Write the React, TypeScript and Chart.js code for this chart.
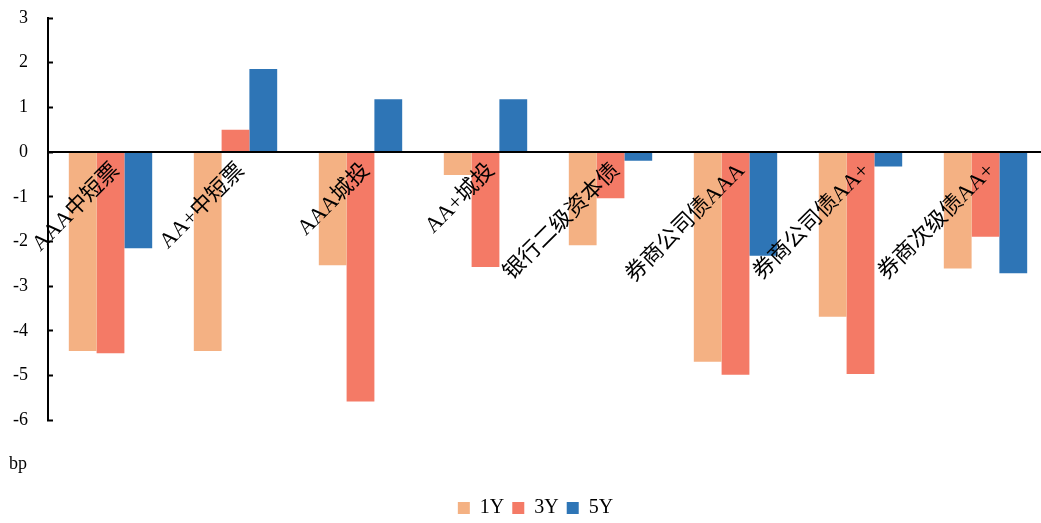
import React, { useEffect, useRef } from 'react';
import { Chart, registerables } from 'chart.js';

Chart.register(...registerables);

const categories = ['AAA中短票', 'AA+中短票', 'AAA城投', 'AA+城投', '银行二级资本债', '券商公司债AAA', '券商公司债AA+', '券商次级债AA+'];
const series1Y = [-4.45, -4.45, -2.53, -0.51, -2.08, -4.69, -3.68, -2.6];
const series3Y = [-4.5, 0.5, -5.58, -2.57, -1.03, -4.98, -4.96, -1.89];
const series5Y = [-2.15, 1.86, 1.18, 1.18, -0.19, -2.32, -0.32, -2.71];
const seriesNames = ['1Y', '3Y', '5Y'];
const yTicks = [-6, -5, -4, -3, -2, -1, 0, 1, 2, 3];
const unitLabel = 'bp';

const serif = "'Times New Roman', 'Liberation Serif', 'Noto Sans CJK SC', serif";

const legendShift = {
  id: 'legendShift',
  afterLayout(chart: any) {
    if (chart.legend) {
      chart.legend.left += 7;
      chart.legend.right += 7;
    }
  },
};

export default function App() {
  const ref = useRef<HTMLCanvasElement>(null);
  useEffect(() => {
    const chart = new Chart(ref.current as HTMLCanvasElement, {
      type: 'bar',
      data: {
        labels: categories,
        datasets: [
          { label: seriesNames[0], data: series1Y, backgroundColor: '#F4B183' },
          { label: seriesNames[1], data: series3Y, backgroundColor: '#F47A66' },
          { label: seriesNames[2], data: series5Y, backgroundColor: '#2E75B6' },
        ],
      },
      options: {
        animation: false,
        responsive: false,
        maintainAspectRatio: false,
        layout: { padding: { left: 9, right: 1, top: 18, bottom: 0 } },
        datasets: { bar: { categoryPercentage: 0.667, barPercentage: 1 } },
        scales: {
          x: {
            position: { y: 0 } as any,
            grid: { display: true, drawOnChartArea: false, drawTicks: false },
            border: { display: true, color: '#000', width: 2, z: 1 } as any,
            ticks: {
              z: 1,
              autoSkip: false,
              minRotation: 45,
              maxRotation: 45,
              padding: 6,
              labelOffset: 6,
              color: '#000',
              font: { family: serif, size: 22 },
            },
            afterFit: (s: any) => {
              s.paddingLeft = 0;
              s.paddingRight = 0;
              s.paddingTop = 0;
              s.paddingBottom = 0;
            },
          },
          y: {
            min: yTicks[0],
            max: yTicks[yTicks.length - 1],
            afterBuildTicks: (s: any) => {
              s.ticks = yTicks.map((v) => ({ value: v }));
            },
            grid: { display: true, drawOnChartArea: false, drawTicks: true, tickLength: -5, tickWidth: 2, tickColor: '#000' },
            border: { display: true, color: '#000', width: 2 },
            ticks: { padding: 25, color: '#000', font: { family: serif, size: 18 } },
            afterFit: (s: any) => {
              s.width = 39;
              s.paddingTop = 0;
              s.paddingBottom = 0;
            },
          },
        },
        plugins: {
          legend: {
            position: 'bottom',
            labels: { boxWidth: 12, boxHeight: 12, padding: 8, color: '#000', font: { family: serif, size: 20 } },
          },
          title: {
            display: true,
            text: unitLabel,
            position: 'bottom',
            align: 'start',
            weight: 500,
            color: '#000',
            font: { family: serif, size: 18, weight: 'normal' },
            padding: { top: 33, bottom: 15 },
          } as any,
          tooltip: { enabled: false },
        },
      },
      plugins: [legendShift],
    });
    return () => chart.destroy();
  }, []);
  return (
    <div style={{ position: 'absolute', left: 0, top: 0, width: 1041, height: 523, overflow: 'hidden', background: '#fff' }}>
      <canvas ref={ref} width={1049} height={528} style={{ display: 'block' }} />
    </div>
  );
}
